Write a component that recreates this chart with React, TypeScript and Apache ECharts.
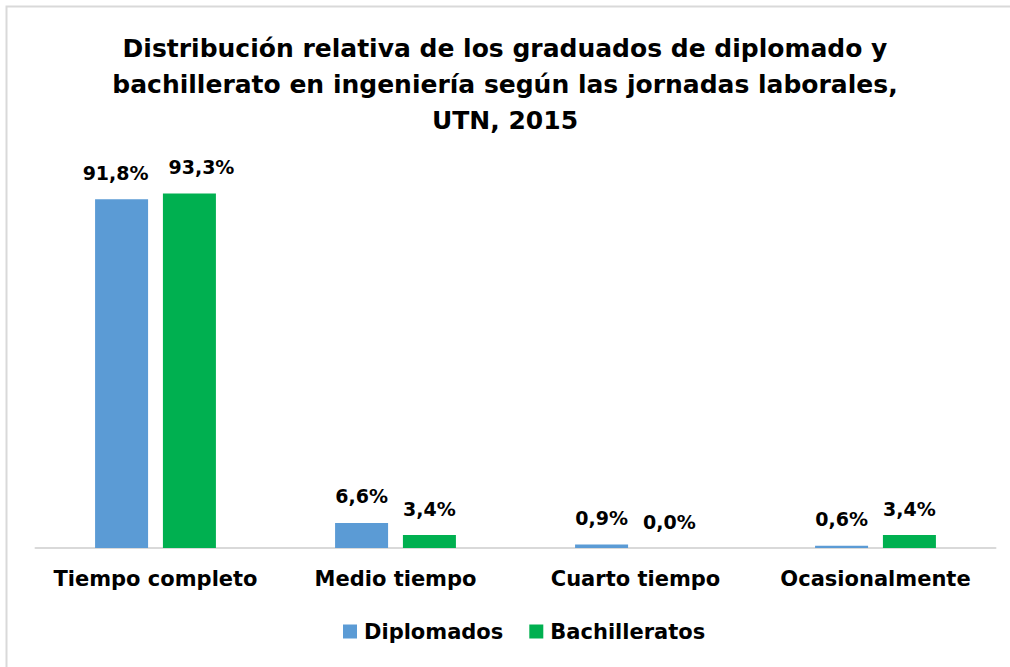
import React, { useEffect, useRef } from "react";
import * as echarts from "echarts";

const titleText =
  "Distribución relativa de los graduados de diplomado y\nbachillerato en ingeniería según las jornadas laborales,\nUTN, 2015";
const categories = ["Tiempo completo", "Medio tiempo", "Cuarto tiempo", "Ocasionalmente"];
const diplomados = [91.8, 6.6, 0.9, 0.6];
const bachilleratos = [93.3, 3.4, 0.0, 3.4];
const seriesNames = ["Diplomados", "Bachilleratos"];
const colors = ["#5B9BD5", "#00B050"];

const FONT = "DejaVu Sans";

const fmt = (v: number) => v.toFixed(1).replace(".", ",") + "%";

export default function App() {
  const ref = useRef<HTMLDivElement>(null);
  useEffect(() => {
    if (!ref.current) return;
    const chart = echarts.init(ref.current, null, { renderer: "svg" });
    const mkData = (arr: number[], firstOffset: number[]) =>
      arr.map((v, i) =>
        i === 0 ? { value: v, label: { offset: firstOffset } } : { value: v }
      );
    const labelCfg = {
      show: true,
      position: "top",
      distance: 17,
      fontFamily: FONT,
      fontWeight: "bold",
      fontSize: 19,
      color: "#000",
      formatter: (p: any) => fmt(p.value),
    };
    chart.setOption({
      animation: false,
      backgroundColor: "#fff",
      title: {
        text: titleText,
        left: "center",
        top: 25,
        textStyle: {
          fontFamily: FONT,
          fontWeight: "bold",
          fontSize: 25,
          lineHeight: 36,
          color: "#000",
        },
      },
      graphic: [
        {
          type: "rect",
          shape: { x: 6.5, y: 6.5, width: 1100, height: 800 },
          style: { fill: "none", stroke: "#D9D9D9", lineWidth: 2 },
          silent: true,
        },
      ],
      legend: {
        data: seriesNames,
        bottom: 20,
        left: 338,
        itemWidth: 14,
        itemHeight: 14,
        itemGap: 26,
        icon: "rect",
        textStyle: {
          fontFamily: FONT,
          fontWeight: "bold",
          fontSize: 21,
          color: "#000",
          padding: [0, 0, 0, 2],
        },
      },
      grid: { left: 35.5, right: 14.5, top: 168, bottom: 119 },
      xAxis: {
        type: "category",
        data: categories,
        axisLine: { lineStyle: { color: "#D9D9D9", width: 2 } },
        axisTick: { show: false },
        axisLabel: {
          interval: 0,
          margin: 20,
          fontFamily: FONT,
          fontWeight: "bold",
          fontSize: 21,
          color: "#000",
        },
      },
      yAxis: {
        type: "value",
        min: 0,
        max: 100,
        show: false,
        splitLine: { show: false },
      },
      series: [
        {
          name: seriesNames[0],
          type: "bar",
          data: mkData(diplomados, [-6, 0]),
          itemStyle: { color: colors[0] },
          barWidth: 53,
          barGap: "28%",
          label: labelCfg,
        },
        {
          name: seriesNames[1],
          type: "bar",
          data: mkData(bachilleratos, [12, 0]),
          itemStyle: { color: colors[1] },
          barWidth: 53,
          barGap: "28%",
          label: labelCfg,
        },
      ],
    });
    return () => chart.dispose();
  }, []);
  return (
    <div
      ref={ref}
      style={{ position: "fixed", left: 0, top: 0, width: 1010, height: 667 }}
    />
  );
}
